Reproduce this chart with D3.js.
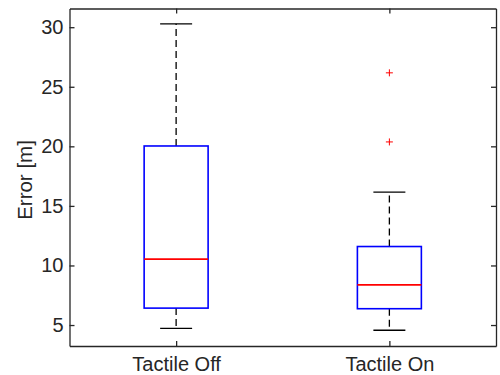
<!DOCTYPE html>
<html>
<head>
<meta charset="utf-8">
<script src="https://cdn.jsdelivr.net/npm/d3@7"></script>
<style>
  body { margin: 0; background: #fff; }
  text { font-family: "Liberation Sans", Arial, sans-serif; fill: #262626; }
</style>
</head>
<body>
<div id="chart"></div>
<script>
// box statistics
let groups = ["Tactile Off", "Tactile On"];
let whiskerLow = [4.72, 4.56];
let q1 = [6.42, 6.37];
let median = [10.53, 8.37];
let q3 = [20.03, 11.59];
let whiskerHigh = [30.28, 16.16];
let outliers = [[], [20.37, 26.17]];
let yTicks = [5, 10, 15, 20, 25, 30];

let options = {
  width: 500,
  height: 375,
  fontSize: 20,
  margins: { top: 8.5, right: 4, left: 69.5, bottom: 29 }
};

let svg = d3.select("#chart")
  .append("svg")
  .attr("width", options.width)
  .attr("height", options.height);

let xScale = d3.scaleLinear()
  .domain([0.5, 2.5])
  .range([options.margins.left, options.width - options.margins.right]);

let yScale = d3.scaleLinear()
  .domain([3.24, 31.57])
  .range([options.height - options.margins.bottom, options.margins.top]);

let x0 = xScale.range()[0], x1 = xScale.range()[1];
let y0 = yScale.range()[0], y1 = yScale.range()[1];
let boxHalf = xScale(1.15) - xScale(1);
let capHalf = boxHalf / 2;

let data = groups.map((g, i) => ({
  name: g,
  pos: i + 1,
  lo: whiskerLow[i], q1: q1[i], med: median[i], q3: q3[i], hi: whiskerHigh[i],
  out: outliers[i]
}));

let boxes = svg.selectAll("g.box")
  .data(data)
  .enter()
  .append("g")
  .classed("box", true);

// dashed whiskers
boxes.append("line")
  .attr("x1", d => xScale(d.pos)).attr("x2", d => xScale(d.pos))
  .attr("y1", d => yScale(d.q3)).attr("y2", d => yScale(d.hi))
  .attr("stroke", "#000").attr("stroke-width", 1.3).attr("stroke-dasharray", "7,4");
boxes.append("line")
  .attr("x1", d => xScale(d.pos)).attr("x2", d => xScale(d.pos))
  .attr("y1", d => yScale(d.q1)).attr("y2", d => yScale(d.lo))
  .attr("stroke", "#000").attr("stroke-width", 1.3).attr("stroke-dasharray", "7,4");

// caps
["hi", "lo"].forEach(k => {
  boxes.append("line")
    .attr("x1", d => xScale(d.pos) - capHalf).attr("x2", d => xScale(d.pos) + capHalf)
    .attr("y1", d => yScale(d[k])).attr("y2", d => yScale(d[k]))
    .attr("stroke", "#000").attr("stroke-width", 1.3);
});

boxes.append("rect")
  .attr("x", d => xScale(d.pos) - boxHalf)
  .attr("y", d => yScale(d.q3))
  .attr("width", boxHalf * 2)
  .attr("height", d => yScale(d.q1) - yScale(d.q3))
  .attr("fill", "none").attr("stroke", "#0000ff").attr("stroke-width", 1.6);

boxes.append("line")
  .attr("x1", d => xScale(d.pos) - boxHalf).attr("x2", d => xScale(d.pos) + boxHalf)
  .attr("y1", d => yScale(d.med)).attr("y2", d => yScale(d.med))
  .attr("stroke", "#ff0000").attr("stroke-width", 1.6);

// outliers as red plus signs
boxes.each(function (d) {
  d3.select(this).selectAll("path.out")
    .data(d.out)
    .enter()
    .append("path")
    .classed("out", true)
    .attr("d", v => {
      let cx = xScale(d.pos), cy = yScale(v), s = 3.5;
      return `M${cx - s},${cy}H${cx + s}M${cx},${cy - s}V${cy + s}`;
    })
    .attr("stroke", "#ff0000").attr("stroke-width", 1);
});

// axes box with inward ticks on all sides
let axisColor = "#262626";
let tickLen = 5;

let yAxisL = d3.axisLeft(yScale).tickValues(yTicks).tickSizeInner(-tickLen).tickSizeOuter(0).tickPadding(6);
let yAxisR = d3.axisRight(yScale).tickValues(yTicks).tickSizeInner(-tickLen).tickSizeOuter(0).tickFormat("");
let xAxisB = d3.axisBottom(xScale).tickValues([1, 2]).tickSizeInner(-tickLen).tickSizeOuter(0).tickPadding(10.5)
  .tickFormat(d => groups[d - 1]);
let xAxisT = d3.axisTop(xScale).tickValues([1, 2]).tickSizeInner(-tickLen).tickSizeOuter(0).tickFormat("");

function styleAxis(g) {
  g.select(".domain").attr("stroke", axisColor).attr("stroke-width", 1.3);
  g.selectAll(".tick line").attr("stroke", axisColor).attr("stroke-width", 1.3);
  g.selectAll(".tick text").attr("font-size", options.fontSize).attr("fill", axisColor)
    .attr("font-family", "'Liberation Sans', Arial, sans-serif");
}

svg.append("g").attr("transform", `translate(${x0},0)`).call(yAxisL).call(styleAxis);
svg.append("g").attr("transform", `translate(${x1},0)`).call(yAxisR).call(styleAxis);
svg.append("g").attr("transform", `translate(0,${y0})`).call(xAxisB).call(styleAxis);
svg.append("g").attr("transform", `translate(0,${y1})`).call(xAxisT).call(styleAxis);

svg.append("text")
  .text("Error [m]")
  .attr("transform", `translate(32,180) rotate(-90)`)
  .attr("text-anchor", "middle")
  .attr("font-size", 20.5);
</script>
</body>
</html>
